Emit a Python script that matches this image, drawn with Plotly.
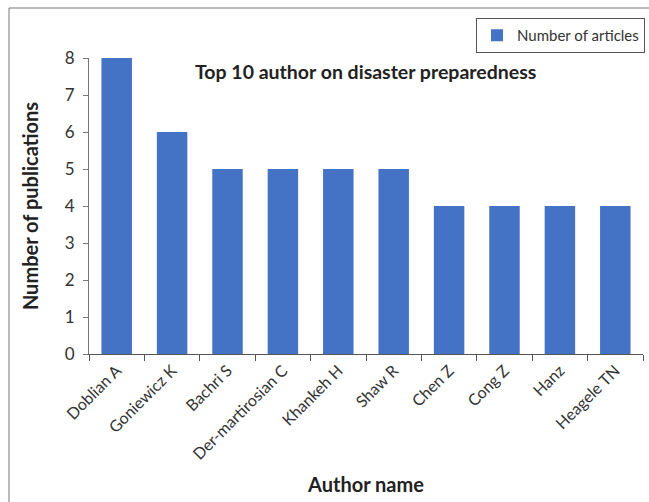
import plotly.graph_objects as go

authors = ["Doblian A", "Goniewicz K", "Bachri S", "Der-martirosian C", "Khankeh H",
           "Shaw R", "Chen Z", "Cong Z", "Hanz", "Heagele TN"]
articles = [8, 6, 5, 5, 5, 5, 4, 4, 4, 4]
y_ticks = [0, 1, 2, 3, 4, 5, 6, 7, 8]

W, H = 649, 502
L, R, T, B = 89, 6, 58, 148
pw, ph = W - L - R, H - T - B

def px_x(x):
    return (x - L) / pw

def px_y(y):
    return (H - B - y) / ph

FONT = "Lato, 'Liberation Sans', sans-serif"

fig = go.Figure()
fig.add_trace(go.Bar(
    x=authors, y=articles, name="Number of articles",
    marker=dict(color="#4472C4", line=dict(width=0)),
    showlegend=True,
))

fig.update_layout(
    width=W, height=H,
    margin=dict(l=L, r=R, t=T, b=B, autoexpand=False),
    paper_bgcolor="white", plot_bgcolor="white",
    bargap=0.45,
    font=dict(family=FONT, color="#333333", size=14),
    showlegend=True,
    legend=dict(
        x=px_x(645), xanchor="right", y=px_y(18), yanchor="top",
        bordercolor="#555555", borderwidth=1, bgcolor="white",
        font=dict(size=15, color="#333333", family=FONT),
        itemwidth=30, tracegroupgap=0,
    ),
    xaxis=dict(
        type="category", tickangle=-45, tickson="boundaries",
        ticks="outside", ticklen=6, tickcolor="#555555",
        showline=True, linecolor="#555555", linewidth=1,
        showgrid=False, zeroline=False,
        tickfont=dict(size=16, color="#333333"),
        title=dict(text="<b>Author name</b>", font=dict(size=20, color="#222222"), standoff=16),
        range=[-0.5, 9.5],
    ),
    yaxis=dict(
        range=[0, 8], tickvals=y_ticks,
        ticks="outside", ticklen=5, tickcolor="#777777",
        showline=True, linecolor="#777777", linewidth=1,
        showgrid=False, zeroline=False,
        ticklabelstandoff=5,
        tickfont=dict(size=17, color="#333333"),
        title=dict(text="<b>Number of publications</b>", font=dict(size=20, color="#222222"), standoff=20),
    ),
    annotations=[dict(
        text="<b>Top 10 author on disaster preparedness</b>",
        xref="paper", yref="paper", x=px_x(365), y=px_y(72),
        xanchor="center", yanchor="middle", showarrow=False,
        font=dict(size=19.5, color="#222222", family=FONT),
    )],
    shapes=[dict(
        type="rect", xref="paper", yref="paper",
        x0=px_x(9), x1=px_x(660), y0=px_y(8), y1=px_y(520),
        line=dict(color="#777777", width=1), fillcolor="rgba(0,0,0,0)", layer="below",
    )],
)

fig.write_html("out.html")
